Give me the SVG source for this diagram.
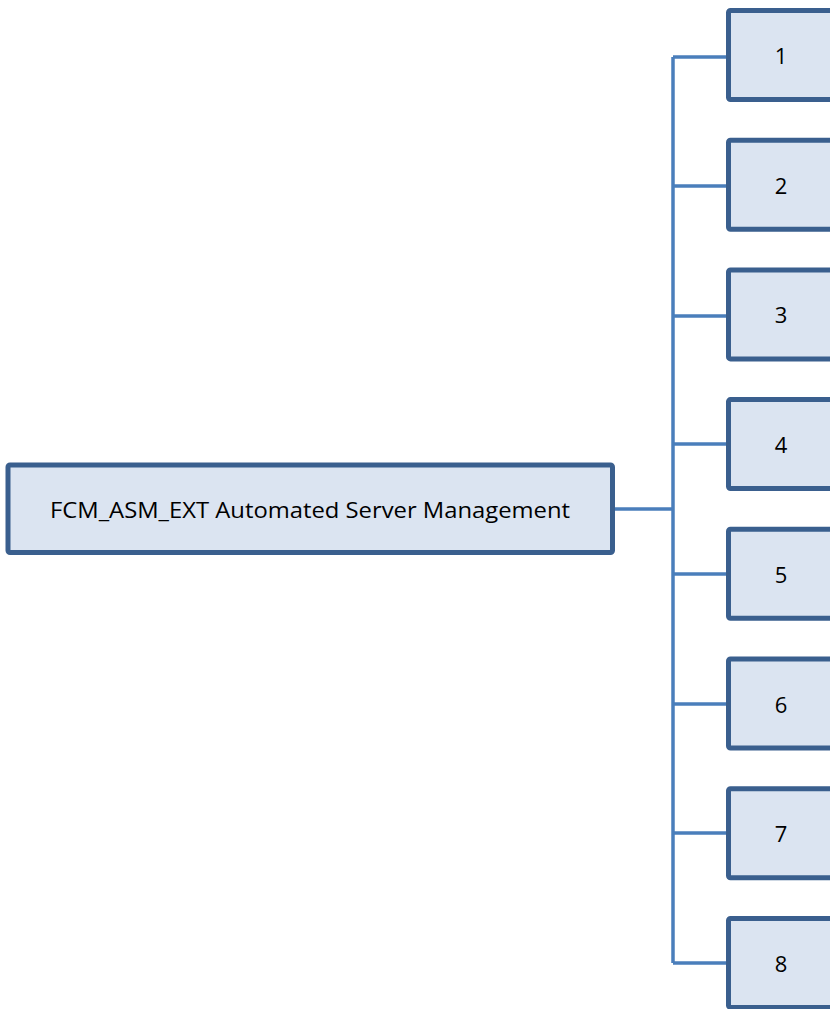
<svg xmlns="http://www.w3.org/2000/svg" width="830" height="1009" viewBox="0 0 830 1009">
  <style>
    .box { fill: #dbe4f1; stroke: #3a5f8e; stroke-width: 5; }
    .wire { fill: none; stroke: #4a7ebb; stroke-width: 3.5; }
    .label { font-family: "Open Sans", "Liberation Sans", sans-serif; fill: #000; }
    .num { font-size: 22px; text-anchor: middle; }
  </style>

  <!-- connectors: root to spine, spine to each child -->
  <g id="connectors">
    <path class="wire" d="M615 509 H673"/>
    <path class="wire" d="M673 57 V963"/>
    <path class="wire" d="M673 57 H728"/>
    <path class="wire" d="M673 186 H728"/>
    <path class="wire" d="M673 316 H728"/>
    <path class="wire" d="M673 444 H728"/>
    <path class="wire" d="M673 574 H728"/>
    <path class="wire" d="M673 704 H728"/>
    <path class="wire" d="M673 833 H728"/>
    <path class="wire" d="M673 963 H728"/>
  </g>

  <g id="root">
    <rect class="box" x="8" y="465" width="604.5" height="87.5" rx="2"/>
    <text class="label" x="50" y="518" font-size="22" textLength="520" lengthAdjust="spacingAndGlyphs">FCM_ASM_EXT Automated Server Management</text>
  </g>

  <g id="n1">
    <rect class="box" x="728.5" y="10.5" width="110" height="89" rx="2"/>
    <text class="label num" x="781" y="64">1</text>
  </g>
  <g id="n2">
    <rect class="box" x="728.5" y="140.2" width="110" height="89" rx="2"/>
    <text class="label num" x="781" y="193.7">2</text>
  </g>
  <g id="n3">
    <rect class="box" x="728.5" y="269.9" width="110" height="89" rx="2"/>
    <text class="label num" x="781" y="323.4">3</text>
  </g>
  <g id="n4">
    <rect class="box" x="728.5" y="399.6" width="110" height="89" rx="2"/>
    <text class="label num" x="781" y="453">4</text>
  </g>
  <g id="n5">
    <rect class="box" x="728.5" y="529.3" width="110" height="89" rx="2"/>
    <text class="label num" x="781" y="582.8">5</text>
  </g>
  <g id="n6">
    <rect class="box" x="728.5" y="659" width="110" height="89" rx="2"/>
    <text class="label num" x="781" y="712.5">6</text>
  </g>
  <g id="n7">
    <rect class="box" x="728.5" y="788.7" width="110" height="89" rx="2"/>
    <text class="label num" x="781" y="842.2">7</text>
  </g>
  <g id="n8">
    <rect class="box" x="728.5" y="918.4" width="110" height="89" rx="2"/>
    <text class="label num" x="781" y="971.9">8</text>
  </g>
</svg>
